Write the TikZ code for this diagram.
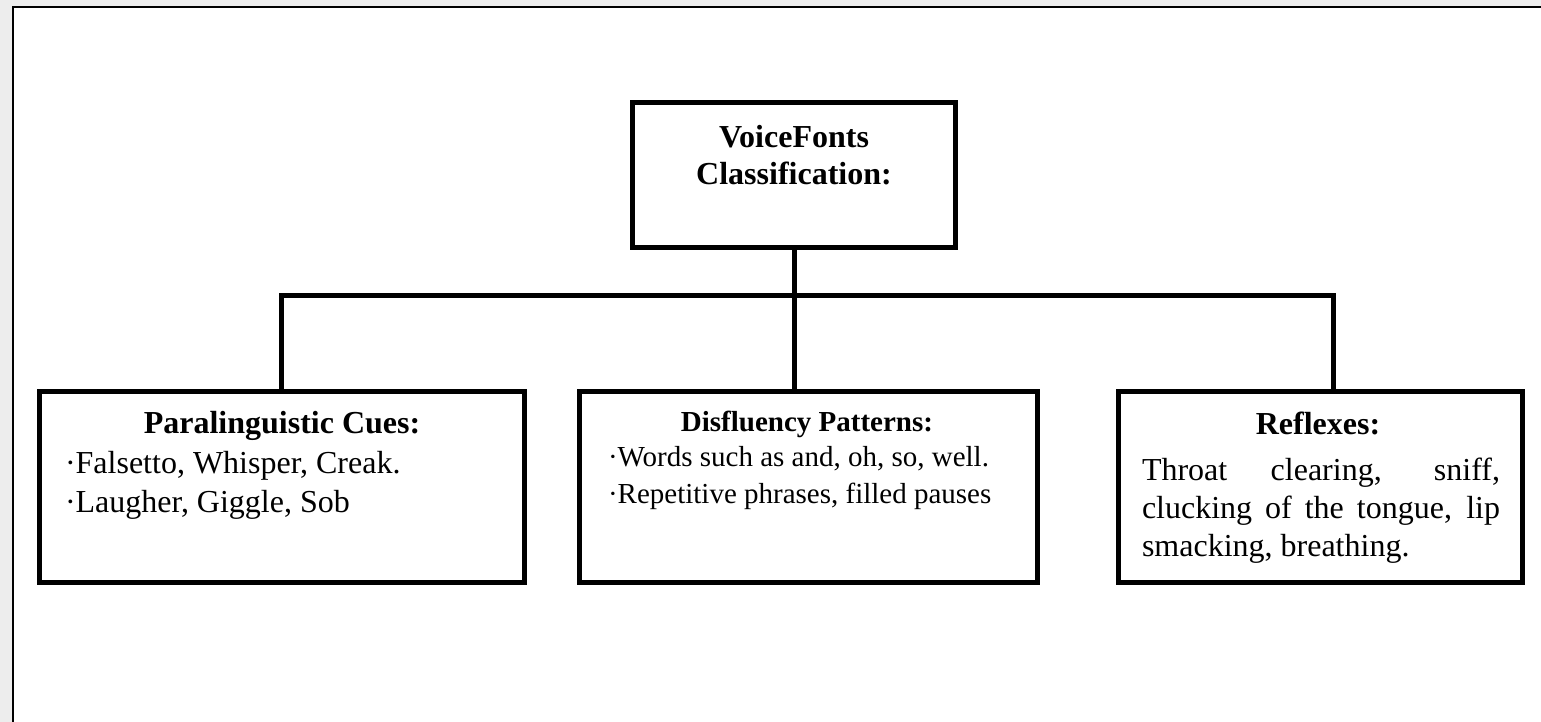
\documentclass[tikz,border=0pt]{standalone}
\usepackage{fontspec}
\setmainfont{LiberationSerif}[Extension=.ttf,UprightFont=*-Regular,BoldFont=*-Bold,ItalicFont=*-Italic,BoldItalicFont=*-BoldItalic]
\begin{document}
\begin{tikzpicture}[x=1pt,y=-1pt,
  box/.style={draw=black,line width=5pt,rectangle,inner sep=0pt,outer sep=0pt,anchor=north west},
  conn/.style={draw=black,line width=5pt},
  big/.style={font=\fontsize{32}{38}\selectfont},
  bigb/.style={font=\fontsize{32}{38}\selectfont\bfseries},
  small/.style={font=\fontsize{29}{35}\selectfont},
  smallb/.style={font=\fontsize{29}{35}\selectfont\bfseries},
  txt/.style={inner sep=0pt,outer sep=0pt}]
\useasboundingbox (0,0) rectangle (1541,722);
% page background and frame
\fill[black!7] (0,0) rectangle (1541,722);
\fill[white] (12.7,6.8) rectangle (1541,722);
\draw[black,line width=1.8pt] (12.7,722) -- (12.7,6.8) -- (1541,6.8);

% boxes
\node[box,minimum width=323pt,minimum height=144.5pt] (top) at (632.5,102.5) {};
\node[box,minimum width=485pt,minimum height=191pt] (left) at (39.5,391.5) {};
\node[box,minimum width=458pt,minimum height=191pt] (mid) at (579.5,391.5) {};
\node[box,minimum width=404pt,minimum height=191pt] (right) at (1118.5,391.5) {};

% connectors
\coordinate (j) at (794,295);
\coordinate (jl) at (281.7,295);
\coordinate (jr) at (1333.5,295);
\draw[conn] (top.south -| j) -- (j);
\draw[conn,line join=miter] (jl |- left.north) -- (jl) -- (jr) -- (jr |- right.north);
\draw[conn] (j) -- (j |- mid.north);

% top box text
\node[txt,bigb,anchor=base] (t1) at (794,148) {VoiceFonts};
\node[txt,bigb,anchor=base] (t2) at (794,185) {Classification:};

% left box text
\node[txt,bigb,anchor=base] (l0) at (282,433) {Paralinguistic Cues:};
\node[txt,big,anchor=base west] (l1) at (65,473) {·Falsetto, Whisper, Creak.};
\node[txt,big,anchor=base west] (l2) at (65,512) {·Laugher, Giggle, Sob};

% middle box text
\node[txt,smallb,anchor=base] (m0) at (807,431) {Disfluency Patterns:};
\node[txt,small,anchor=base west] (m1) at (608,466) {·Words such as and, oh, so, well.};
\node[txt,small,anchor=base west] (m2) at (608,503) {·Repetitive phrases, filled pauses};

% right box text
\node[txt,bigb,anchor=base] (r0) at (1318,434) {Reflexes:};
\node[txt,big,anchor=base west] (r1) at (1142,480) {\makebox[358pt][s]{Throat clearing, sniff,}};
\node[txt,big,anchor=base west] (r2) at (1142,518) {\makebox[358pt][s]{clucking of the tongue, lip}};
\node[txt,big,anchor=base west] (r3) at (1142,556) {smacking, breathing.};
\end{tikzpicture}
\end{document}
